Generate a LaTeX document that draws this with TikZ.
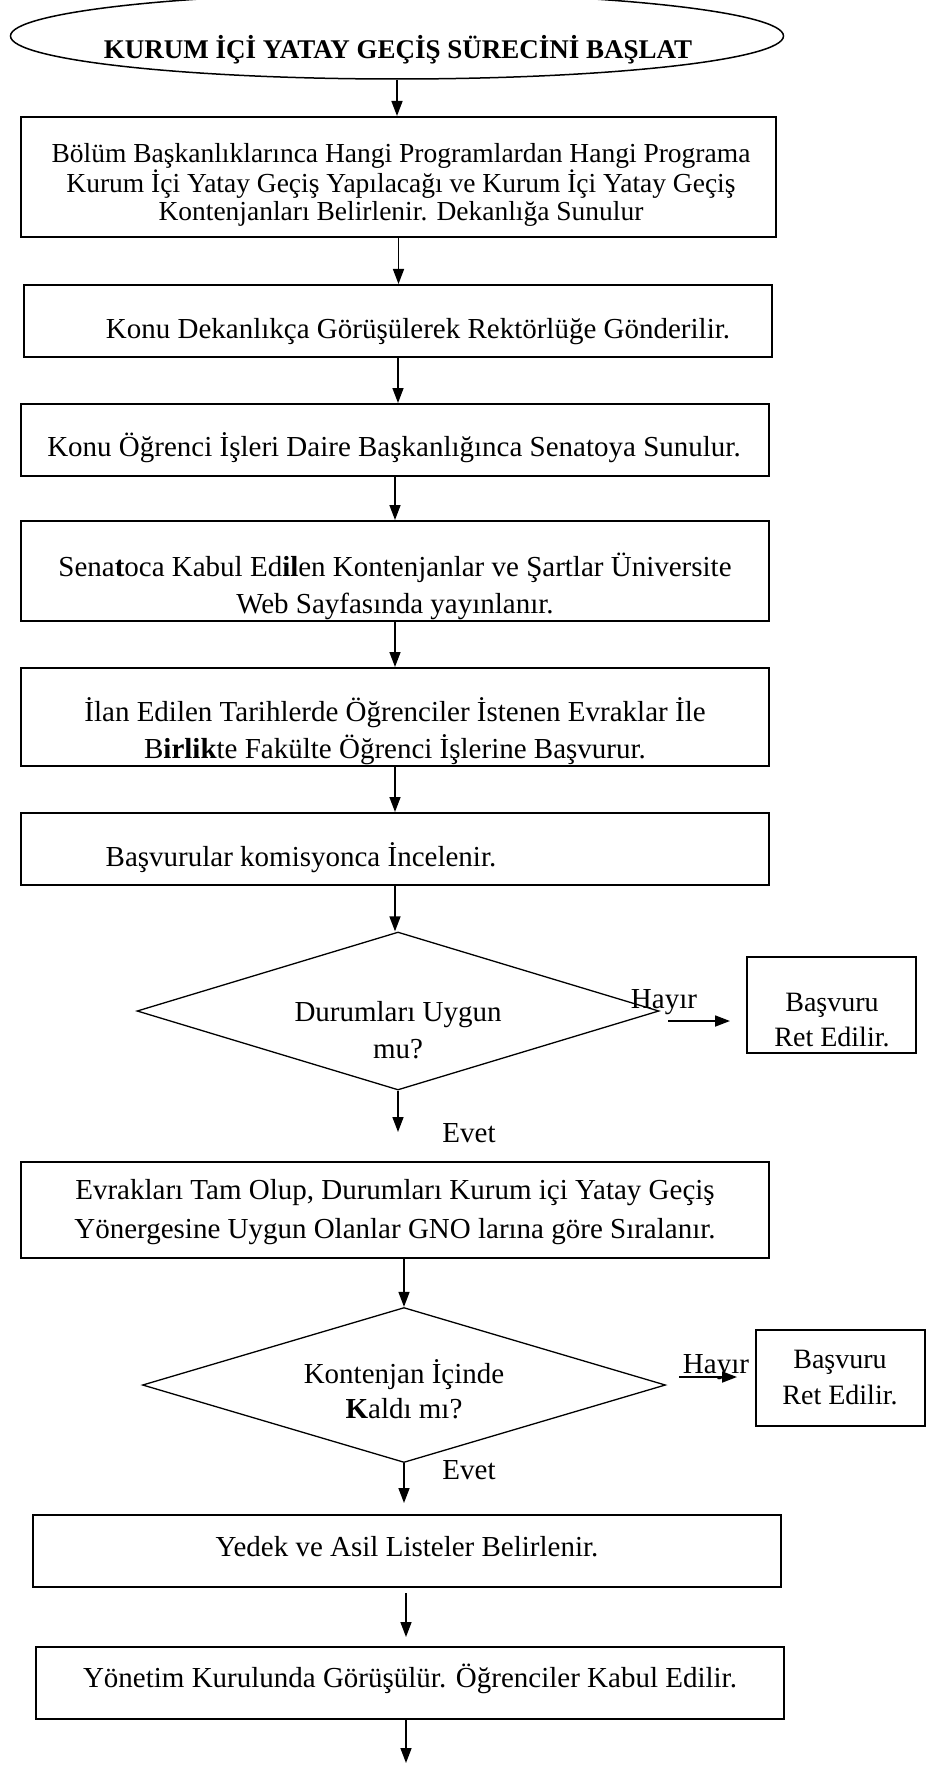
\documentclass[tikz,border=0pt]{standalone}
\usepackage{fontspec}
\setmainfont{Liberation Serif}
\usetikzlibrary{shapes.geometric,arrows.meta}

\begin{document}
\begin{tikzpicture}[x=1pt,y=-1pt]
\tikzstyle{every node}+=[inner sep=0pt]
\tikzset{box/.style={draw, line width=2pt, minimum width=748pt, minimum height=72pt}}
\tikzset{karar/.style={draw, diamond, line width=1.3pt}}
\tikzset{txt/.style={align=center, font=\fontsize{29}{37}\selectfont}}
\tikzset{arr/.style={line width=1.5pt, -{Triangle[length=15pt,width=11pt]}}}
\useasboundingbox (0,0) rectangle (927,1768);
\node [draw, ellipse, line width=1.5pt, minimum width=773pt, minimum height=86pt] (start) at (397,36) {};
\node [font=\fontsize{27}{30}\selectfont\bfseries] (t0) at (398,50) {KURUM İÇİ YATAY GEÇİŞ SÜRECİNİ BAŞLAT};
\node [box, minimum width=755pt, minimum height=120pt] (b1) at (398.5,177) {};
\node [txt, font=\fontsize{27.5}{28}\selectfont] (t1) at (401,185) {Bölüm Başkanlıklarınca Hangi Programlardan Hangi Programa\\Kurum İçi Yatay Geçiş Yapılacağı ve Kurum İçi Yatay Geçiş\\Kontenjanları Belirlenir. Dekanlığa Sunulur};
\node [box] (b2) at (398,321) {};
\node [txt] (t2) at (418,332) {Konu Dekanlıkça Görüşülerek Rektörlüğe Gönderilir.};
\node [box] (b3) at (395,440) {};
\node [txt] (t3) at (394,448) {Konu Öğrenci İşleri Daire Başkanlığınca Senatoya Sunulur.};
\node [box, minimum height=100pt] (b4) at (395,571) {};
\node [txt] (t4) at (395,586) {Sena\textbf{t}oca Kabul Ed\textbf{il}en Kontenjanlar ve Şartlar Üniversite\\Web Sayfasında yayınlanır.};
\node [box, minimum height=98pt] (b5) at (395,717) {};
\node [txt] (t5) at (395,731.5) {İlan Edilen Tarihlerde Öğrenciler İstenen Evraklar İle\\B\textbf{irlik}te Fakülte Öğrenci İşlerine Başvurur.};
\node [box] (b6) at (395,849) {};
\node [txt] (t6) at (301,858) {Başvurular komisyonca İncelenir.};
\node [karar, minimum width=522pt, minimum height=158pt] (d1) at (398,1011) {};
\node [txt] (td1) at (398,1030) {Durumları Uygun\\mu?};
\node [box, minimum width=169pt, minimum height=96pt] (r1) at (831.5,1005) {};
\node [txt, font=\fontsize{28}{35}\selectfont] (tr1) at (832,1020) {Başvuru\\Ret Edilir.};
\node [txt] (h1) at (664,1002) {Hayır};
\coordinate (h1a) at (668,1021);
\coordinate (h1b) at (730,1021);
\coordinate (e1) at (398,1132);
\node [txt] (ev1) at (469,1133) {Evet};
\node [box, minimum height=96pt] (b7) at (395,1210) {};
\node [txt, font=\fontsize{29}{39}\selectfont] (t7) at (395,1212.5) {Evrakları Tam Olup, Durumları Kurum içi Yatay Geçiş\\Yönergesine Uygun Olanlar GNO larına göre Sıralanır.};
\node [karar, minimum width=523pt, minimum height=155pt] (d2) at (404,1385) {};
\node [txt, font=\fontsize{29}{35}\selectfont] (td2) at (404,1389.5) {Kontenjan İçinde\\\textbf{K}aldı mı?};
\node [box, minimum width=169pt, minimum height=96pt] (r2) at (840.5,1378) {};
\node [txt, font=\fontsize{28}{36}\selectfont] (tr2) at (840,1378) {Başvuru\\Ret Edilir.};
\node [txt] (h2) at (716,1367) {Hayır};
\coordinate (h2a) at (679,1377);
\coordinate (h2b) at (737,1377);
\coordinate (e2) at (404,1503);
\node [txt] (ev2) at (469,1470) {Evet};
\node [box] (b8) at (407,1551) {};
\node [txt] (t8) at (407,1547) {Yedek ve Asil Listeler Belirlenir.};
\node [box] (b9) at (410,1683) {};
\node [txt] (t9) at (410,1679) {Yönetim Kurulunda Görüşülür. Öğrenciler Kabul Edilir.};
\coordinate (e3) at (406,1763);
\draw [arr] (start.south) -- (start.south |- b1.north);
\draw [arr] (b1.south) -- (b1.south |- b2.north);
\draw [arr] (b2.south) -- (b2.south |- b3.north);
\draw [arr] (b3.south) -- (b3.south |- b4.north);
\draw [arr] (b4.south) -- (b4.south |- b5.north);
\draw [arr] (b5.south) -- (b5.south |- b6.north);
\draw [arr] (b6.south) -- (b6.south |- d1.north);
\draw [arr] (d1.south) -- (e1);
\draw [arr, line width=1.8pt] (h1a) -- (h1b);
\draw [arr] (d2.north |- b7.south) -- (d2.north);
\draw [arr] (d2.south) -- (e2);
\draw [arr, line width=1.8pt] (h2a) -- (h2b);
\draw [arr, shorten <=5pt, shorten >=9pt] (b8.south -| e3) -- (b9.north -| e3);
\draw [arr] (b9.south -| e3) -- (e3);
\end{tikzpicture}
\end{document}
